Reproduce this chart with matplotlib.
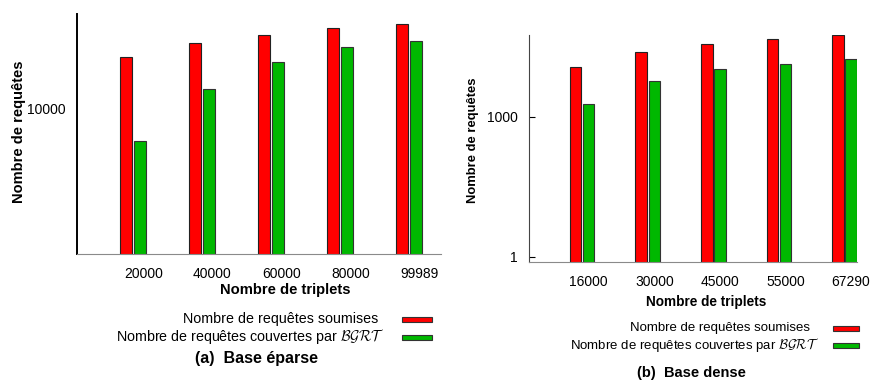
import matplotlib
matplotlib.use('Agg')
import matplotlib.pyplot as plt
from matplotlib.patches import Rectangle
import numpy as np

plt.rcParams['font.family'] = ['Liberation Sans', 'DejaVu Sans']
plt.rcParams['mathtext.fontset'] = 'cm'

# (a) sparse base
triplets_a = ['20000', '40000', '60000', '80000', '99989']
soumises_a = [22800, 28200, 32500, 36000, 38700]
couvertes_a = [6040, 13800, 21000, 26500, 29300]

# (b) dense base
triplets_b = ['16000', '30000', '45000', '55000', '67290']
soumises_b = [11600, 24300, 37100, 46100, 57000]
couvertes_b = [1930, 5900, 10500, 13600, 17500]

lab_soumises = 'Nombre de requêtes soumises'
lab_couvertes = r'Nombre de requêtes couvertes par $\mathcal{BGRT}$'

RED = '#ff0000'
GREEN = '#00b800'
W, H = 871, 381


def fx(x):
    return x / W


def fy(y):
    return 1 - y / H


fig = plt.figure(figsize=(W / 100, H / 100), dpi=100)

ax1 = fig.add_axes([fx(77), fy(254), fx(441 - 77), (254 - 14) / H])
ax2 = fig.add_axes([fx(529), fy(262), fx(857 - 529), (262 - 35) / H])


def draw(ax, cats, s, c, ylim, yticks, xlim, tick_shift):
    x = np.arange(len(cats))
    ax.bar(x - 0.1, s, width=0.175, color=RED, edgecolor='#222222', linewidth=0.8)
    ax.bar(x + 0.1, c, width=0.175, color=GREEN, edgecolor='#333333', linewidth=0.8)
    ax.set_yscale('log')
    ax.set_ylim(*ylim)
    ax.set_xlim(*xlim)
    ax.set_yticks(yticks)
    ax.set_yticklabels([str(t) for t in yticks])
    ax.minorticks_off()
    ax.set_xticks(x + tick_shift)
    ax.set_xticklabels(cats)
    ax.tick_params(axis='x', length=0, pad=9, labelsize=10)
    ax.tick_params(axis='y', direction='in', length=4, pad=8, labelsize=10)
    for side in ('top', 'right'):
        ax.spines[side].set_visible(False)
    ax.spines['bottom'].set_color('#8a8a8a')
    ax.set_facecolor('none')


draw(ax1, triplets_a, soumises_a, couvertes_a, (1000, 45000), [10000], (-0.81, 4.46), 0.15)
draw(ax2, triplets_b, soumises_b, couvertes_b, (0.78, 57000), [1, 1000], (-0.81, 4.19), 0.1)
ax1.spines['left'].set_linewidth(1.4)
ax1.tick_params(axis='y', length=0)
ax2.spines['left'].set_color('#444444')

fig.text(fx(19), fy(132), 'Nombre de requêtes', rotation=90, fontsize=10.5,
         fontweight='bold', ha='center', va='center')
fig.text(fx(473), fy(140), 'Nombre de requêtes', rotation=90, fontsize=9.4,
         fontweight='bold', ha='center', va='center')
fig.text(fx(285), fy(290), 'Nombre de triplets', fontsize=10.6, fontweight='bold',
         ha='center', va='center')
fig.text(fx(706), fy(302), 'Nombre de triplets', fontsize=9.8, fontweight='bold',
         ha='center', va='center')
fig.text(fx(256), fy(358), '(a)  Base éparse', fontsize=11.5, fontweight='bold',
         ha='center', va='center')
fig.text(fx(691), fy(373), '(b)  Base dense', fontsize=10.5, fontweight='bold',
         ha='center', va='center')


# legend rows: text then a flat swatch on the right
def legend_rows(x_end1, x_start2, y1, y2, sw_x, sw_w, size):
    fig.text(fx(x_end1), fy(y1), lab_soumises, fontsize=size, ha='right', va='center')
    fig.text(fx(x_start2), fy(y2), lab_couvertes, fontsize=size, ha='left', va='center')
    for y, col in ((y1, RED), (y2, GREEN)):
        fig.add_artist(Rectangle((fx(sw_x), fy(y + 2.5)), fx(sw_w), 5 / H,
                                 transform=fig.transFigure, facecolor=col,
                                 edgecolor='#333333', linewidth=0.8))


legend_rows(378, 116, 319, 337, 402, 30, 10.3)
legend_rows(810, 570, 328, 345, 833, 26, 9.5)

fig.savefig('out.png', dpi=100)
